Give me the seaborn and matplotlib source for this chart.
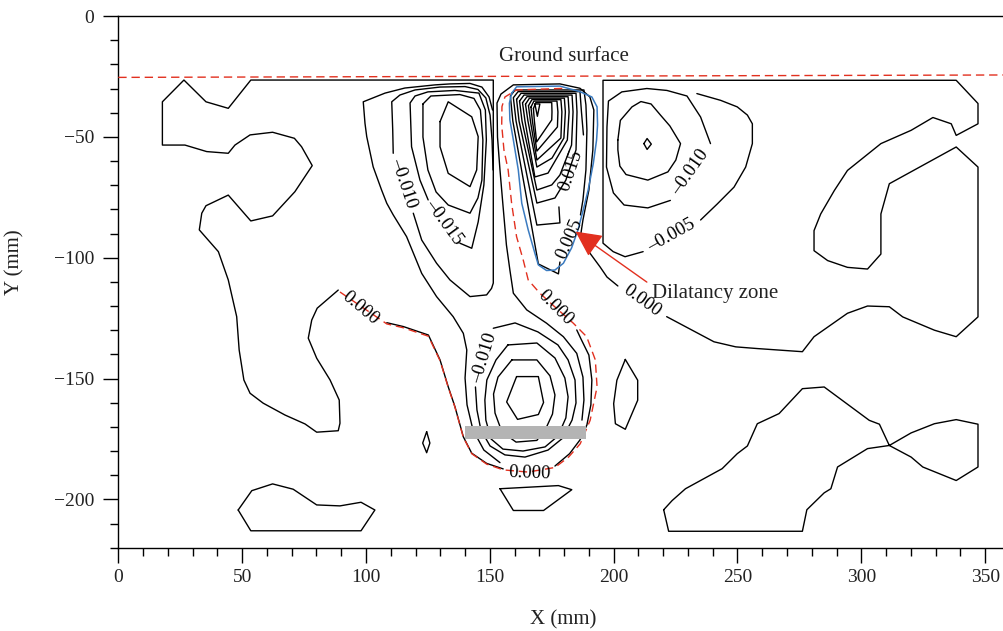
import numpy as np
import pandas as pd
import matplotlib
matplotlib.use("Agg")
import matplotlib.pyplot as plt
from matplotlib.ticker import MultipleLocator
import seaborn as sns

# ---------------------------------------------------------------
# Volumetric strain contours above the model tunnel, (X mm, Y mm)
# ---------------------------------------------------------------

# zero-strain contour framing the left half (runs along the grid edge)
zero_left = [(88.8, -113.4), (80.3, -120.9), (78.1, -125.8), (76.7, -133.3), (80.1, -141.6),
             (85.5, -150.6), (89.2, -158.9), (89.5, -168.5), (88.8, -171.6), (80.1, -172.2),
             (75.4, -168.8), (67.3, -165.1), (58.5, -160.2), (53.2, -156.1), (50.7, -150.6),
             (48.8, -138.2), (47.8, -124.4), (44.4, -109.2), (40.4, -97.5), (32.7, -88.5),
             (33.7, -81.6), (35.4, -78.5), (44.4, -74.1), (53.5, -84.8), (62.3, -82.7),
             (71.3, -72.7), (78.3, -61.9), (74.0, -54.1), (71.1, -50.6), (62.3, -48.1),
             (53.2, -49.2), (47.1, -53.4), (44.4, -56.8), (35.7, -56.1), (26.9, -53.4),
             (17.8, -53.4), (17.8, -35.5), (26.5, -26.5), (35.4, -35.5), (44.4, -38.2),
             (53.5, -26.5), (151.4, -26.5), (151.4, -110.5), (150.7, -112.7), (148.7, -115.4),
             (142.0, -116.1), (133.9, -109.2), (128.5, -102.3), (122.5, -92.7), (119.1, -81.6)]

left_m010_top = [(111.0, -56.8), (110.8, -47.2), (110.4, -35.5), (113.7, -32.7), (119.8, -30.6),
                 (129.9, -29.4), (140.0, -29.2), (145.2, -30.4), (148.4, -33.9), (150.1, -41.0),
                 (150.9, -51.3), (151.3, -63.7)]

left_m005 = [(151.1, -38.9), (149.7, -33.5), (146.8, -29.4), (142.0, -27.9), (133.9, -28.1),
             (127.9, -28.5), (115.7, -29.8), (107.7, -31.9), (98.9, -35.5), (99.6, -44.4),
             (100.3, -49.9), (102.9, -62.4), (106.3, -72.0), (108.4, -77.5), (111.0, -82.3),
             (116.4, -91.3), (122.5, -106.5), (128.5, -116.1), (135.2, -124.4), (139.3, -131.3),
             (140.7, -138.2), (140.0, -149.8), (140.8, -160.9), (143.2, -171.3), (147.6, -179.6),
             (154.1, -184.8)]

left_m015 = [(137.9, -94.0), (142.7, -96.1), (145.3, -85.2), (147.6, -69.9), (148.6, -51.3),
             (148.2, -38.9), (145.6, -31.9), (135.9, -30.8), (125.0, -31.4), (119.8, -33.1),
             (117.8, -36.0), (118.4, -54.1), (121.8, -67.9), (125.1, -76.1)]

left_m020 = [(123.0, -36.4), (126.2, -33.1), (137.9, -32.5), (143.6, -34.1), (146.2, -38.9),
             (147.2, -51.3), (146.8, -67.9), (145.2, -75.3), (142.0, -81.6), (133.2, -78.2),
             (128.3, -72.8), (125.0, -63.7), (123.0, -50.1)]

left_m025 = [(129.9, -43.7), (133.2, -35.5), (142.7, -41.7), (145.3, -49.9), (144.7, -63.7),
             (142.0, -70.6), (133.2, -65.1), (129.9, -54.1)]

# lobe below the crown
low_zero_a = [(108.4, -126.9), (115.1, -128.5), (125.2, -132.0), (129.9, -142.3), (133.2, -153.4),
              (135.9, -161.6), (139.3, -174.1), (142.7, -180.9), (148.7, -185.1), (155.4, -187.4)]
low_zero_b = [(176.3, -186.2), (182.2, -181.1), (186.4, -175.4), (189.2, -169.2), (190.8, -160.9),
              (191.2, -150.6), (190.0, -140.3), (186.8, -133.6), (185.1, -129.9)]
low_m010 = [(151.4, -129.2), (160.2, -127.0), (169.4, -130.7), (177.5, -136.1), (181.6, -142.3),
            (184.4, -150.6), (184.8, -160.1), (183.2, -167.2), (179.5, -174.6), (173.5, -179.6),
            (164.2, -182.5), (156.1, -181.6), (150.1, -177.9), (146.4, -171.3), (144.8, -163.0),
            (144.2, -153.5)]
low_m015 = [(157.3, -136.1), (169.0, -135.3), (176.3, -141.5), (180.3, -149.8), (181.6, -157.6),
            (180.7, -166.3), (177.5, -173.8), (172.3, -178.3), (163.4, -180.0), (155.3, -179.2),
            (150.5, -175.0), (148.4, -167.2), (148.0, -158.9), (148.8, -150.6), (152.5, -142.3)]
low_m020 = [(158.9, -142.3), (169.0, -142.3), (174.3, -148.9), (176.3, -156.8), (175.3, -164.7),
            (172.7, -170.5), (169.0, -175.6), (160.6, -176.3), (154.9, -172.1), (152.1, -164.3),
            (151.5, -156.4), (153.3, -149.4)]
low_m025 = [(160.8, -149.2), (169.6, -149.2), (171.7, -159.9), (169.6, -164.9), (161.2, -166.9),
            (156.8, -159.7)]

# central dilatant lobe
mid_outer = [(187.2, -167.2), (188.0, -158.9), (187.6, -149.4), (185.1, -139.6), (179.7, -132.7),
             (172.9, -127.1), (164.9, -121.6), (159.5, -114.7), (158.1, -105.1), (156.7, -94.7),
             (155.3, -78.2), (154.1, -63.7), (153.1, -50.1), (152.9, -36.0), (154.5, -32.3),
             (159.5, -28.5), (178.3, -28.1), (186.4, -29.9), (190.4, -33.5), (192.0, -38.9),
             (191.6, -55.4), (190.0, -72.0), (187.6, -84.4), (186.8, -89.8), (190.4, -98.1),
             (194.5, -103.8), (197.3, -108.0), (201.7, -111.7)]
mid_p005 = [(178.3, -101.8), (177.7, -106.7), (169.6, -102.6), (159.3, -43.5), (158.3, -33.1),
            (160.2, -30.6), (188.0, -30.6), (188.8, -36.8), (189.2, -47.2), (188.8, -63.7),
            (187.6, -76.1), (186.6, -82.3)]
mid_p015 = [(177.9, -79.0), (178.3, -85.6), (169.0, -86.5), (160.6, -43.5), (159.5, -33.8),
            (161.4, -31.3), (186.4, -31.3), (187.0, -39.7), (187.8, -49.2)]
mid_p020 = [(160.8, -34.5), (162.6, -32.0), (184.8, -32.0), (185.2, -39.7), (184.8, -55.4),
            (180.7, -67.9), (176.3, -75.3), (169.0, -77.4), (161.8, -43.5)]
mid_p025 = [(162.0, -35.2), (163.8, -32.7), (183.2, -32.7), (183.6, -39.7), (183.0, -53.4),
            (178.3, -65.8), (175.0, -69.9), (169.0, -72.0), (163.0, -43.5)]
mid_p030 = [(163.2, -35.9), (165.0, -33.4), (181.6, -33.4), (182.0, -39.7), (181.3, -51.3),
            (173.5, -65.0), (168.2, -66.6), (164.2, -43.5)]
mid_p035 = [(164.4, -36.5), (166.0, -34.0), (180.1, -34.0), (180.5, -39.7), (179.9, -50.5),
            (175.1, -58.8), (169.0, -62.5), (165.4, -43.5)]
mid_p040 = [(165.6, -37.1), (167.0, -34.6), (178.7, -34.6), (179.1, -39.7), (178.7, -50.5),
            (169.0, -59.6), (166.4, -43.5)]
mid_p045 = [(166.6, -37.7), (167.8, -35.2), (177.1, -35.2), (177.5, -39.7), (177.3, -45.9),
            (169.0, -55.9), (167.2, -43.5)]
mid_p050 = [(167.6, -38.3), (168.6, -35.8), (175.0, -35.8), (175.1, -39.7), (175.0, -43.0),
            (168.9, -52.1), (168.0, -43.5)]
mid_p055 = [(168.2, -36.4), (170.2, -36.4), (169.2, -41.5)]

# right half
right_zero = [(221.4, -124.4), (240.5, -134.8), (249.3, -136.9), (258.0, -137.6), (276.2, -138.9),
              (280.9, -132.7), (294.4, -123.0), (302.5, -120.0), (311.3, -120.3), (316.7, -124.5),
              (329.5, -130.0), (338.3, -132.7), (347.1, -124.5), (347.1, -62.5), (338.3, -54.2),
              (311.3, -69.4), (307.9, -81.9), (307.9, -98.5), (302.5, -104.7), (294.4, -104.0),
              (286.4, -101.2), (280.9, -97.1), (280.9, -88.8), (283.6, -81.9), (289.1, -72.2),
              (294.4, -63.9), (307.9, -52.8), (320.1, -47.3), (328.9, -42.0), (336.3, -44.6),
              (338.3, -49.4), (347.1, -44.6), (347.1, -36.2), (338.3, -26.6), (195.7, -26.6),
              (195.7, -94.0), (199.8, -97.5), (204.6, -99.6), (211.9, -97.5)]
right_m005 = [(235.1, -84.4), (241.8, -77.8), (248.6, -70.8), (253.3, -62.5), (256.0, -52.8),
              (256.0, -44.6), (254.0, -41.0), (249.9, -37.6), (243.2, -34.9), (233.6, -32.1)]
right_m010 = [(239.1, -52.8), (235.1, -41.8), (229.6, -33.1), (221.5, -30.8), (213.4, -30.0),
              (203.3, -31.4), (197.9, -35.2), (197.3, -45.9), (197.1, -62.5), (199.9, -73.2),
              (204.2, -78.2), (213.8, -79.4), (222.9, -76.3)]
right_m015 = [(201.7, -51.3), (202.7, -43.2), (207.4, -37.6), (211.0, -35.4), (215.1, -36.4),
              (218.9, -41.0), (222.7, -45.5), (227.0, -52.8), (225.1, -59.6), (221.9, -64.5),
              (213.8, -67.9), (205.0, -65.6), (202.5, -62.1), (201.7, -55.4)]
right_m020 = [(212.2, -52.8), (213.5, -50.7), (215.2, -53.0), (213.5, -55.2)]

# small closed islands
island_a = [(124.5, -172.0), (125.8, -176.7), (124.5, -180.7), (122.9, -176.7)]
island_b = [(204.7, -142.1), (209.7, -150.7), (209.7, -159.0), (204.7, -171.0), (200.7, -168.7),
            (200.0, -160.4), (201.3, -150.7)]
island_c = [(154.1, -195.6), (177.7, -194.3), (183.1, -196.0), (171.7, -204.6), (159.5, -204.6)]
island_d = [(48.4, -204.4), (53.9, -196.4), (62.3, -193.6), (70.6, -195.8), (80.1, -202.3),
            (89.5, -202.7), (98.0, -201.2), (103.6, -204.4), (98.0, -213.0), (53.5, -213.0)]
island_e = [(220.2, -204.3), (222.2, -213.2), (276.2, -213.2), (278.0, -204.3), (285.0, -197.3),
            (287.7, -195.6), (290.4, -186.6), (302.5, -179.0), (311.3, -177.7), (320.1, -172.5),
            (329.5, -168.7), (338.3, -167.0), (347.1, -168.9), (347.1, -186.6), (338.3, -192.2),
            (324.8, -186.6), (320.1, -182.5), (311.3, -177.7), (307.3, -168.9), (303.2, -167.3),
            (285.0, -153.5), (276.2, -154.2), (266.8, -164.5), (258.0, -168.7), (254.0, -177.9),
            (249.9, -181.1), (243.8, -187.3), (229.0, -195.6), (223.6, -200.5)]

# dilatancy zone outline and zero-strain boundary
dilatancy_zone = [(158.8, -32.0), (160.8, -29.3), (178.3, -29.0), (186.4, -31.3), (191.2, -33.5),
                  (193.3, -37.6), (193.5, -45.1), (193.1, -51.3), (191.8, -60.9), (189.7, -72.0),
                  (187.7, -80.3), (185.6, -88.5), (183.0, -96.0), (179.7, -102.3), (176.3, -105.1),
                  (172.9, -105.3), (169.6, -103.0), (168.2, -98.2), (165.5, -88.5), (162.9, -77.5),
                  (161.5, -63.7), (159.5, -51.3), (158.1, -43.0), (157.9, -36.1)]
zero_boundary = [(89.5, -114.2), (108.4, -127.4), (115.1, -129.0), (125.2, -132.5), (129.9, -142.6),
                 (133.2, -153.6), (135.9, -161.8), (139.3, -174.3), (142.7, -181.1), (148.7, -185.4),
                 (155.4, -187.8), (165.4, -188.7), (176.3, -186.8), (181.8, -182.5), (186.5, -177.0),
                 (190.5, -167.3), (193.3, -153.5), (192.6, -142.3), (189.1, -132.7), (183.7, -127.1),
                 (176.3, -120.4), (170.2, -114.7), (165.5, -109.2), (163.5, -101.0), (160.8, -91.3),
                 (158.8, -77.5), (157.4, -63.7), (155.7, -55.4), (154.8, -45.1), (154.9, -37.5),
                 (156.1, -33.5), (160.8, -30.6), (181.0, -29.9)]
ground_surface = [(0.0, -25.4), (357.6, -24.4)]

# tunnel model (grey bar)
tunnel_x = [140.0, 189.0]
tunnel_y = [-175.2, -169.5]

# contour labels
label_text = ["0.000", "\u20130.010", "\u20130.015", "0.015", "0.005", "0.000", "0.000",
              "\u20130.005", "\u20130.010", "\u20130.010", "0.000"]
label_x = [97.6, 115.1, 131.5, 182.8, 182.4, 176.3, 211.4, 223.5, 231.0, 147.8, 166.0]
label_y = [-121.0, -69.2, -85.1, -64.1, -92.1, -120.6, -117.9, -91.0, -64.5, -141.4, -189.1]
label_rot = [-40, -71.6, -53.8, 71.2, 66.4, -45, -36, 29, 54.8, 73, -2]

arrow_tail = (213.4, -110.1)
arrow_head = (184.6, -89.2)

x_ticks = [0, 50, 100, 150, 200, 250, 300, 350]
y_ticks = [-200, -150, -100, -50, 0]

INK = "black"
RED = "#e2301f"
BLUE = "#3b7bc0"

sns.set_theme(style="ticks")
plt.rcParams["font.family"] = ["Liberation Serif", "DejaVu Serif"]
plt.rcParams["axes.unicode_minus"] = True

fig = plt.figure(figsize=(10.04, 6.31), dpi=100)
ax = fig.add_axes([0.11783, 0.13201, 0.88217, 0.84263])


def trace(points, closed=False, color=INK, lw=1.0, ls="-", z=2):
    pts = list(points) + ([points[0]] if closed else [])
    df = pd.DataFrame(pts, columns=["x", "y"])
    sns.lineplot(data=df, x="x", y="y", sort=False, estimator=None, color=color,
                 lw=lw, linestyle=ls, legend=False, ax=ax, zorder=z)


for line in [zero_left, left_m010_top, left_m005, left_m015, low_zero_a, low_zero_b,
             low_m010, mid_outer, mid_p005, mid_p015, right_zero, right_m005, right_m010]:
    trace(line)
for loop in [left_m020, left_m025, low_m015, low_m020, low_m025, mid_p020, mid_p025,
             mid_p030, mid_p035, mid_p040, mid_p045, mid_p050, mid_p055, right_m015,
             right_m020, island_a, island_b, island_c, island_d, island_e]:
    trace(loop, closed=True)

trace(dilatancy_zone, closed=True, color=BLUE, lw=1.1, z=2.5)
trace(zero_boundary, color=RED, lw=1.0, ls=(0, (6, 3.5)), z=3)
trace(ground_surface, color=RED, lw=1.0, ls=(0, (6, 3.5)), z=3)

ax.fill_between(tunnel_x, tunnel_y[0], tunnel_y[1], color="#b4b4b4", lw=0, zorder=4)

for t, x, y, r in zip(label_text, label_x, label_y, label_rot):
    ax.text(x, y, t, rotation=r, rotation_mode="anchor", ha="center", va="center",
            fontsize=13.5, color=INK, zorder=5)

ax.text(180.1, -16.8, "Ground surface", ha="center", va="center", fontsize=15, color="#222222")
ax.text(240.9, -115.0, "Dilatancy zone", ha="center", va="center", fontsize=15, color="#222222")
ax.annotate("", xy=arrow_head, xytext=arrow_tail,
            arrowprops=dict(arrowstyle="-|>,head_length=1.6,head_width=0.8", color=RED,
                            lw=1.0, shrinkA=0, shrinkB=0, mutation_scale=10), zorder=6)

ax.set_xlim(0, 357.6)
ax.set_ylim(-220, 0)
ax.set_xticks(x_ticks)
ax.set_yticks(y_ticks)
ax.xaxis.set_minor_locator(MultipleLocator(10))
ax.yaxis.set_minor_locator(MultipleLocator(10))
ax.tick_params(axis="both", which="major", direction="out", length=10.5, width=1.0,
               color="black", labelsize=14, labelcolor="#222222")
ax.tick_params(axis="both", which="minor", direction="out", length=5.5, width=1.0, color="black")
ax.tick_params(axis="x", which="major", pad=5)
ax.tick_params(axis="y", which="major", pad=7)
ax.tick_params(top=False, right=False, which="both")
for side in ["left", "bottom", "top"]:
    ax.spines[side].set_color("black")
    ax.spines[side].set_linewidth(1.0)
ax.spines["right"].set_visible(False)

ax.set_xlabel("X (mm)", fontsize=15, color="#222222")
ax.set_ylabel("Y (mm)", fontsize=15, color="#222222")
ax.xaxis.set_label_coords(0.502, -0.136)
ax.xaxis.label.set_va("center")
ax.yaxis.set_label_coords(-0.1166, 0.537)
ax.yaxis.label.set_va("center")

fig.savefig("out.png", dpi=100, facecolor="white")
